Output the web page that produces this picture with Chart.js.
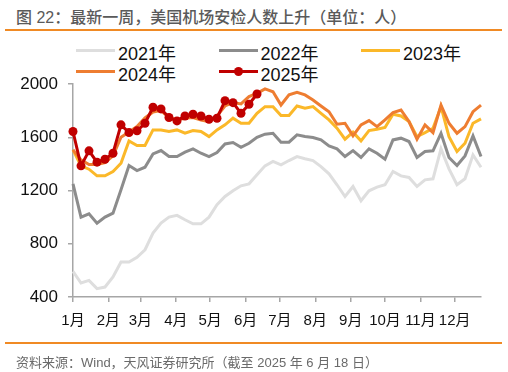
<!DOCTYPE html>
<html>
<head>
<meta charset="utf-8">
<script src="https://cdn.jsdelivr.net/npm/chart.js@4.4.1/dist/chart.umd.min.js"></script>
<style>
  body { margin: 0; background: #fff; }
  #wrap { position: relative; width: 508px; height: 372px; overflow: hidden;
    font-family: "Liberation Sans", Arial, "Noto Sans CJK SC", sans-serif; }
  #chart { position: absolute; left: 0; top: 0; }
  .title { position: absolute; left: 16px; top: 4px; font-size: 16px; font-weight: 500; color: #5a5a5a; white-space: nowrap;
    font-family: "Liberation Sans", "Noto Sans CJK SC", sans-serif; }
  .rule { position: absolute; left: 5px; width: 497px; height: 1.5px; background: #f08a24; }
  .source { position: absolute; left: 16px; top: 352px; font-size: 13px; color: #6a6a6a; white-space: nowrap; }
  .item { position: absolute; height: 20px; font-size: 18px; color: #111; white-space: nowrap; }
  .item .ln { position: absolute; left: 0; top: 9px; width: 39px; height: 3px; }
  .item .dot { position: absolute; left: 15px; top: 6px; width: 9px; height: 9px; border-radius: 50%; }
  .item span { position: absolute; left: 42px; top: -1px; }
</style>
</head>
<body>
<div id="wrap">
  <div class="title">图 22：最新一周，美国机场安检人数上升（单位：人）</div>
  <div class="rule" style="top:29px"></div>
  <div id="legend"></div>
  <canvas id="chart" width="508" height="372"></canvas>
  <div class="rule" style="top:342px"></div>
  <div class="source">资料来源：Wind，天风证券研究所（截至 2025 年 6 月 18 日）</div>
</div>
<script>
const months = ['1月', '2月', '3月', '4月', '5月', '6月', '7月', '8月', '9月', '10月', '11月', '12月'];
const monthStartDays = [0, 31, 59, 90, 120, 151, 181, 212, 243, 273, 304, 334];
const weeks = Array.from({ length: 52 }, (_, i) => i);

const y2021 = [592, 505, 525, 463, 475, 550, 663, 663, 698, 755, 880, 955, 1000,
  1013, 980, 950, 950, 1000, 1093, 1155, 1198, 1235, 1250, 1318, 1385, 1418,
  1393, 1425, 1455, 1438, 1425, 1380, 1325, 1243, 1155, 1230, 1123, 1198,
  1225, 1243, 1343, 1310, 1298, 1230, 1280, 1288, 1513, 1363, 1243, 1288, 1468, 1375];
const y2022 = [1250, 1000, 1025, 955, 1000, 1030, 1205, 1388, 1350, 1375, 1475, 1500, 1455,
  1455, 1488, 1513, 1480, 1455, 1485, 1550, 1560, 1525, 1555, 1600, 1623, 1630,
  1563, 1563, 1618, 1605, 1598, 1580, 1535, 1513, 1455, 1500, 1448, 1513,
  1480, 1435, 1580, 1593, 1568, 1448, 1493, 1498, 1630, 1448, 1388, 1460, 1610, 1455];
const y2023 = [1505, 1385, 1360, 1310, 1310, 1343, 1405, 1572, 1538, 1538, 1655, 1655, 1643,
  1655, 1630, 1650, 1643, 1605, 1655, 1693, 1743, 1705, 1705, 1780, 1830, 1830,
  1763, 1763, 1835, 1818, 1830, 1780, 1730, 1668, 1585, 1638, 1573, 1650,
  1660, 1673, 1773, 1760, 1718, 1605, 1635, 1668, 1830, 1605, 1493, 1555, 1705, 1738];
const y2024 = [1505, 1430, 1395, 1395, 1410, 1460, 1600, 1640, 1680, 1745, 1790, 1800, 1748,
  1730, 1743, 1748, 1730, 1718, 1760, 1835, 1860, 1850, 1905, 1930, 1963, 1942,
  1842, 1918, 1937, 1918, 1880, 1835, 1792, 1698, 1705, 1610, 1693, 1725,
  1680, 1730, 1785, 1805, 1718, 1585, 1693, 1635, 1842, 1705, 1630, 1680, 1792, 1842];
const y2025 = [1643, 1385, 1498, 1413, 1435, 1480, 1693, 1635, 1648, 1705, 1825, 1813, 1748,
  1723, 1760, 1773, 1760, 1735, 1743, 1875, 1860, 1780, 1848, 1925];

const series = [
  { label: '2025年', data: y2025, color: '#c00000', marker: true },
  { label: '2024年', data: y2024, color: '#ee7d31' },
  { label: '2023年', data: y2023, color: '#fbb829' },
  { label: '2022年', data: y2022, color: '#8c8c8c' },
  { label: '2021年', data: y2021, color: '#dedede' }
];

// legend, laid out like the original (3 columns)
const legendOrder = ['2021年', '2022年', '2023年', '2024年', '2025年'];
const legendEl = document.getElementById('legend');
legendOrder.forEach((name, k) => {
  const s = series.find(d => d.label === name);
  const item = document.createElement('div');
  item.className = 'item';
  item.style.left = (76 + (k % 3) * 142.5) + 'px';
  item.style.top = (40 + Math.floor(k / 3) * 21) + 'px';
  item.innerHTML = '<div class="ln" style="background:' + s.color + '"></div>' +
    (s.marker ? '<div class="dot" style="background:' + s.color + '"></div>' : '') +
    '<span>' + name + '</span>';
  legendEl.appendChild(item);
});

const axisColor = '#a6a6a6';
const tickFont = { family: '"Liberation Sans", Arial, "Noto Sans CJK SC", sans-serif' };

new Chart(document.getElementById('chart'), {
  type: 'line',
  data: {
    labels: weeks,
    datasets: series.map((s, k) => ({
      label: s.label,
      data: s.data,
      borderColor: s.color,
      backgroundColor: s.color,
      borderWidth: 3,
      pointRadius: s.marker ? 4.5 : 0,
      pointHoverRadius: s.marker ? 4.5 : 0,
      pointBorderWidth: 0,
      tension: 0,
      clip: false,
      order: k + 1
    }))
  },
  options: {
    responsive: false,
    animation: false,
    events: [],
    layout: { padding: { left: 0, right: 27, top: 84, bottom: 35 } },
    plugins: { legend: { display: false }, tooltip: { enabled: false } },
    scales: {
      x: {
        type: 'linear',
        min: 0,
        max: 51,
        afterBuildTicks: scale => {
          scale.ticks = monthStartDays.map(d => ({ value: d / 7 }));
        },
        afterFit: scale => { scale.height = 40; },
        ticks: {
          callback: (v, i) => months[i],
          autoSkip: false,
          maxRotation: 0,
          minRotation: 0,
          padding: 10,
          color: '#111',
          font: Object.assign({ size: 15 }, tickFont)
        },
        grid: { drawOnChartArea: false, drawTicks: true, tickLength: 5, color: axisColor, lineWidth: 1.5 },
        border: { color: axisColor, width: 1.5 }
      },
      y: {
        min: 400,
        max: 2000,
        afterFit: scale => { scale.width = 73; },
        ticks: {
          stepSize: 400,
          callback: v => String(v),
          padding: 10,
          color: '#111',
          font: Object.assign({ size: 17 }, tickFont)
        },
        grid: { drawOnChartArea: false, drawTicks: true, tickLength: 5, color: axisColor, lineWidth: 1.5 },
        border: { color: axisColor, width: 1.5 }
      }
    }
  }
});
</script>
</body>
</html>
